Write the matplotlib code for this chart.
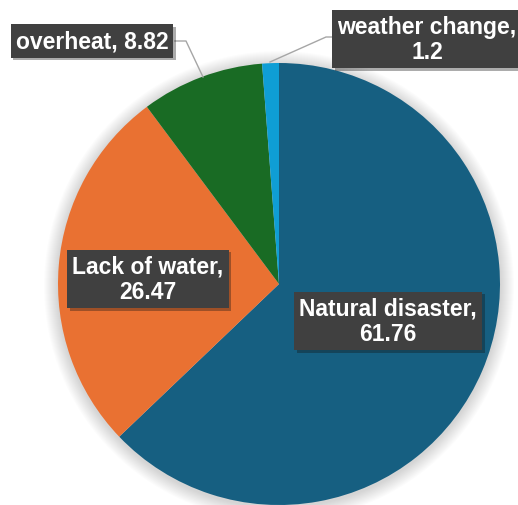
import matplotlib
matplotlib.use("Agg")
import matplotlib.pyplot as plt
import matplotlib.patheffects as pe
from matplotlib.patches import Circle

# ---------- data ----------
labels = ["Natural disaster", "Lack of water", "overheat", "weather change"]
values = [61.76, 26.47, 8.82, 1.2]
colors = ["#165F81", "#E97132", "#196B24", "#0F9ED5"]
seps = [",\n", ",\n", ", ", ",\n"]

# pixel layout (image coords, y down)
W, H = 518, 506
cx, cy, R = 279, 285, 221
label_pos = [(388, 322), (148, 280), (92, 42), (427, 40)]

fig = plt.figure(figsize=(W / 100, H / 100), dpi=100)
ax = fig.add_axes([0, 0, 1, 1])

# soft shadow round the pie
for i in range(14):
    ax.add_patch(Circle((cx, H - cy - 2), R + 14 - i, color="black",
                        alpha=0.012, lw=0, zorder=0))

wedges, _ = ax.pie(values, colors=colors, startangle=90, counterclock=False,
                   center=(cx, H - cy), radius=R,
                   wedgeprops={"linewidth": 0})
for w in wedges:
    w.set_zorder(2)

# pie() resets the limits, so set them afterwards
ax.set_xlim(0, W)
ax.set_ylim(0, H)
ax.set_aspect("equal")
ax.axis("off")

# leader lines for the two small slices
ax.plot([175, 186, 203], [H - 42, H - 42, H - 78], color="#A6A6A6", lw=1, zorder=3)
ax.plot([335, 326, 270], [H - 38, H - 38, H - 63], color="#A6A6A6", lw=1, zorder=3)

for (px, py), lab, val, sep in zip(label_pos, labels, values, seps):
    t = ax.text(px, H - py, f"{lab}{sep}{val}", ha="center", va="center",
                fontsize=16.5, fontweight="bold", color="white",
                family=["Liberation Sans", "DejaVu Sans"], linespacing=1.15,
                zorder=5,
                bbox=dict(boxstyle="square,pad=0.22", facecolor="#404040",
                          edgecolor="none"))
    t.get_bbox_patch().set_path_effects(
        [pe.SimplePatchShadow(offset=(2, -2), alpha=0.35), pe.Normal()])

fig.savefig("out.png", dpi=100)
